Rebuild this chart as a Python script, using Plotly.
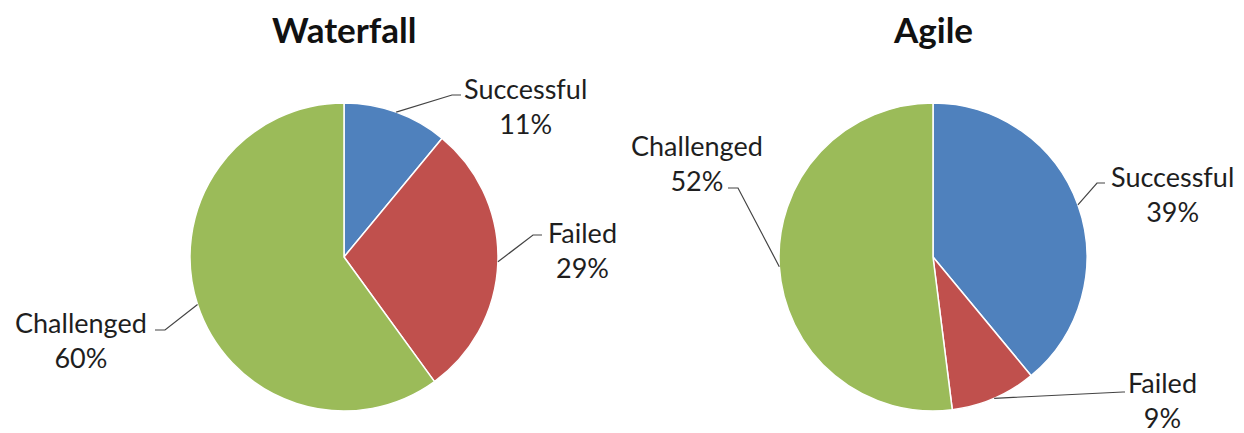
import math
import plotly.graph_objects as go

# ---- data ----
categories = ["Successful", "Failed", "Challenged"]
waterfall_values = [11, 29, 60]
agile_values = [39, 9, 52]
chart_titles = ["Waterfall", "Agile"]

# ---- style / layout ----
W, H = 1244, 433
colors = ["#4F81BD", "#C0504D", "#9BBB59"]
FONT = "Lato"
TXT = "#1e1e1e"
centers = [(344, 257), (933, 257)]
R = 154

# label layout (pixel positions): text centre, elbow, line end
label_layout = [
    [  # Waterfall
        dict(text=(525, 106), elbow=(452, 95), end=(461, 95)),
        dict(text=(582, 250), elbow=(533, 235), end=(542, 235)),
        dict(text=(81, 340), elbow=(165, 330), end=(155, 330)),
    ],
    [  # Agile
        dict(text=(1172, 194), elbow=(1097, 183), end=(1105, 183)),
        dict(text=(1162, 400), elbow=(1123, 392), end=(1125, 392)),
        dict(text=(697, 163), elbow=(738, 188), end=(728, 188)),
    ],
]

def px(x):
    return x / W

def py(y):
    return 1 - y / H

fig = go.Figure()
annotations = []
shapes = []
for i, (vals, title) in enumerate(zip([waterfall_values, agile_values], chart_titles)):
    cx, cy = centers[i]
    fig.add_trace(go.Pie(
        labels=categories, values=vals, sort=False, direction="clockwise",
        rotation=0, textinfo="none", hoverinfo="label+percent",
        marker=dict(colors=colors, line=dict(color="white", width=1.5)),
        domain=dict(x=[px(cx - R), px(cx + R)], y=[py(cy + R), py(cy - R)]),
        showlegend=False,
    ))
    annotations.append(dict(
        x=px(cx), y=py(29), xref="paper", yref="paper", text="<b>%s</b>" % title,
        showarrow=False, font=dict(family=FONT, size=35, color="#111"),
        xanchor="center", yanchor="middle"))
    total = sum(vals)
    cum = 0
    for j, v in enumerate(vals):
        theta = 2 * math.pi * (cum + v / 2) / total
        cum += v
        ex = cx + R * math.sin(theta)
        ey = cy - R * math.cos(theta)
        lay = label_layout[i][j]
        (bx, by), (tx, ty), (lx, ly) = lay["elbow"], lay["end"], lay["text"]
        shapes.append(dict(type="path", xref="paper", yref="paper",
                           path="M %f %f L %f %f L %f %f" % (px(ex), py(ey), px(bx), py(by), px(tx), py(ty)),
                           line=dict(color="#444", width=1.2)))
        pct = round(100 * v / total)
        annotations.append(dict(
            x=px(lx), y=py(ly), xref="paper", yref="paper",
            text="%s<br>%d%%" % (categories[j], pct), showarrow=False,
            font=dict(family=FONT, size=27, color=TXT), align="center",
            xanchor="center", yanchor="middle"))

fig.update_layout(
    width=W, height=H, margin=dict(l=0, r=0, t=0, b=0),
    paper_bgcolor="white", plot_bgcolor="white",
    annotations=annotations, shapes=shapes,
)
fig.write_html("out.html")
